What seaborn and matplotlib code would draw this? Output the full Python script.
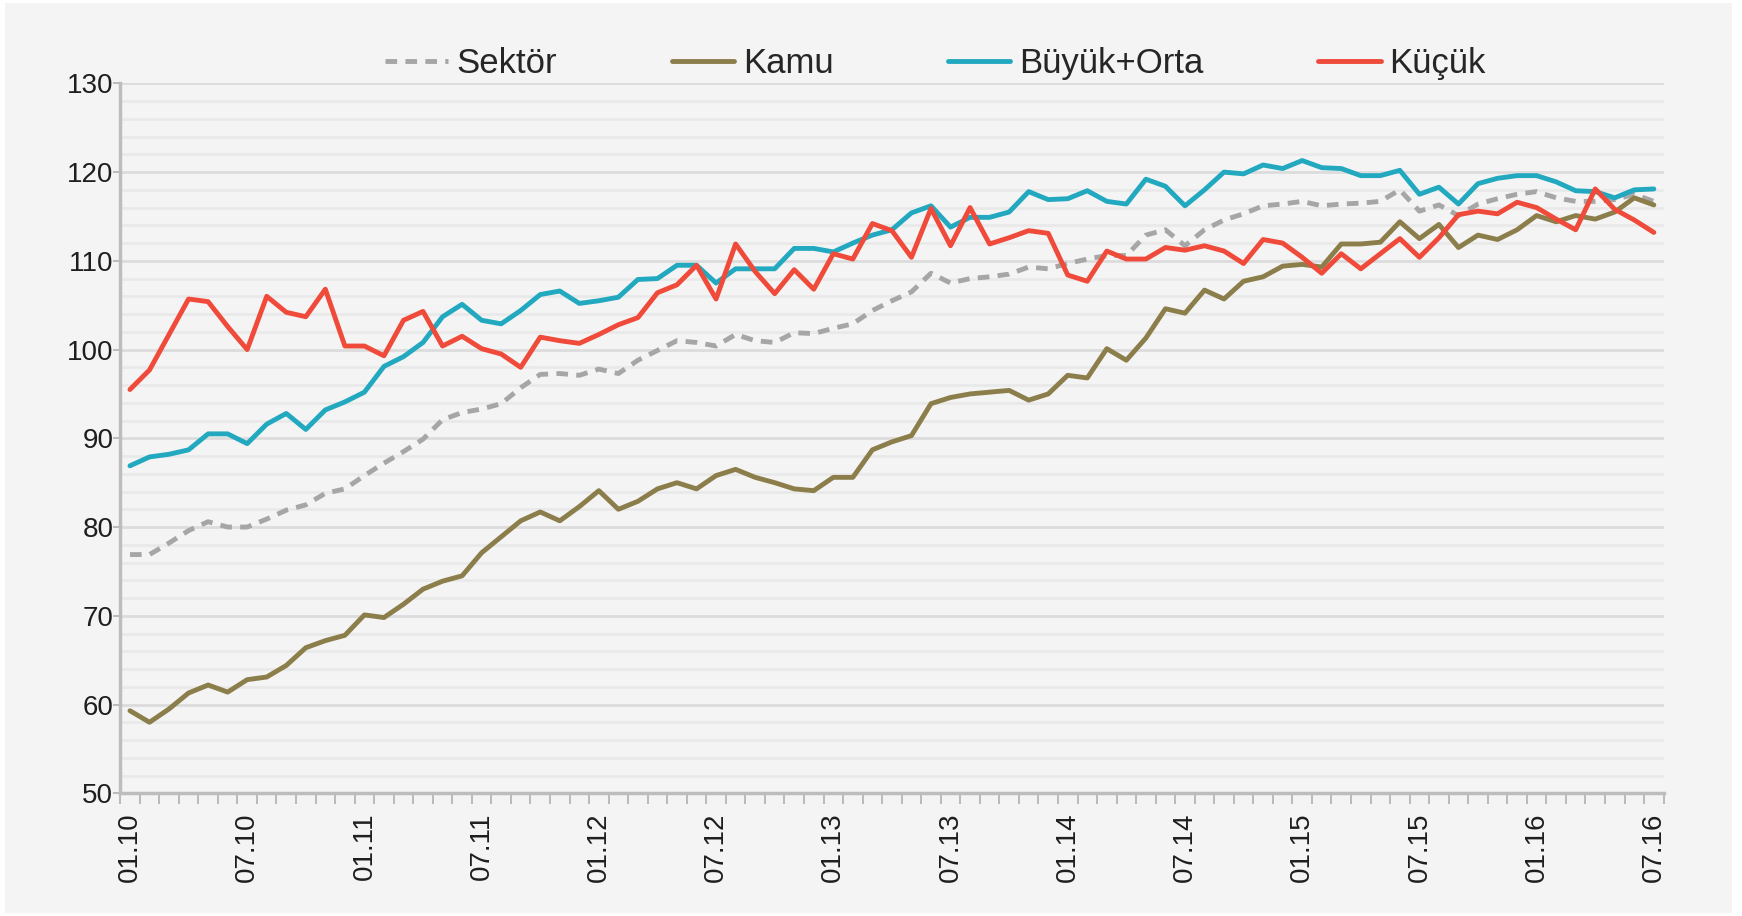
import numpy as np
import pandas as pd
import matplotlib
matplotlib.use("Agg")
import matplotlib.pyplot as plt
import seaborn as sns
from matplotlib.patches import Rectangle
from matplotlib.ticker import MultipleLocator, FixedLocator

# aylar: 01.10 - 07.16 (79 ay)
aylar = [f"{m:02d}.{y:02d}" for y in range(10, 17) for m in range(1, 13)][:79]

sektor = [76.9, 76.9, 78.2, 79.6, 80.6, 80.0, 80.0, 80.9, 81.9, 82.5, 83.8, 84.3,
          85.8, 87.2, 88.5, 89.9, 92.1, 92.9, 93.3, 93.9, 95.7, 97.2, 97.3, 97.1,
          97.8, 97.3, 98.8, 99.9, 101.0, 100.8, 100.4, 101.7, 101.0, 100.8, 101.9, 101.8,
          102.4, 102.9, 104.4, 105.5, 106.5, 108.6, 107.5, 108.0, 108.2, 108.5, 109.3, 109.1,
          109.7, 110.2, 110.6, 110.6, 112.9, 113.5, 111.7, 113.5, 114.6, 115.3, 116.2, 116.4,
          116.7, 116.2, 116.4, 116.5, 116.7, 118.0, 115.6, 116.3, 115.1, 116.4, 117.0, 117.5,
          117.8, 117.1, 116.7, 116.7, 116.9, 117.5, 116.7]

kamu = [59.3, 58.0, 59.5, 61.3, 62.2, 61.4, 62.8, 63.1, 64.4, 66.4, 67.2, 67.8,
        70.1, 69.8, 71.3, 73.0, 73.9, 74.5, 77.1, 78.9, 80.7, 81.7, 80.7, 82.3,
        84.1, 82.0, 82.9, 84.3, 85.0, 84.3, 85.8, 86.5, 85.6, 85.0, 84.3, 84.1,
        85.6, 85.6, 88.7, 89.6, 90.3, 93.9, 94.6, 95.0, 95.2, 95.4, 94.3, 95.0,
        97.1, 96.8, 100.1, 98.8, 101.3, 104.6, 104.1, 106.7, 105.7, 107.7, 108.2, 109.4,
        109.6, 109.3, 111.9, 111.9, 112.1, 114.4, 112.5, 114.1, 111.5, 112.9, 112.4, 113.5,
        115.1, 114.4, 115.1, 114.7, 115.5, 117.1, 116.3]

buyuk_orta = [86.9, 87.9, 88.2, 88.7, 90.5, 90.5, 89.4, 91.6, 92.8, 91.0, 93.2, 94.1,
              95.2, 98.1, 99.2, 100.8, 103.7, 105.1, 103.3, 102.9, 104.4, 106.2, 106.6, 105.2,
              105.5, 105.9, 107.9, 108.0, 109.5, 109.5, 107.5, 109.1, 109.1, 109.1, 111.4, 111.4,
              111.0, 112.0, 112.9, 113.5, 115.4, 116.2, 113.8, 114.9, 114.9, 115.5, 117.8, 116.9,
              117.0, 117.9, 116.7, 116.4, 119.2, 118.4, 116.2, 118.0, 120.0, 119.8, 120.8, 120.4,
              121.3, 120.5, 120.4, 119.6, 119.6, 120.2, 117.5, 118.3, 116.4, 118.7, 119.3, 119.6,
              119.6, 118.9, 117.9, 117.8, 117.1, 118.0, 118.1]

kucuk = [95.5, 97.7, 101.7, 105.7, 105.4, 102.6, 100.0, 106.0, 104.2, 103.7, 106.8, 100.4,
         100.4, 99.3, 103.3, 104.3, 100.4, 101.5, 100.1, 99.5, 98.0, 101.4, 101.0, 100.7,
         101.7, 102.8, 103.6, 106.4, 107.3, 109.5, 105.7, 111.9, 108.8, 106.3, 109.0, 106.8,
         110.8, 110.2, 114.2, 113.4, 110.4, 115.9, 111.7, 116.0, 111.9, 112.6, 113.4, 113.1,
         108.4, 107.7, 111.1, 110.2, 110.2, 111.5, 111.2, 111.7, 111.1, 109.7, 112.4, 112.0,
         110.4, 108.6, 110.8, 109.1, 110.8, 112.5, 110.4, 112.6, 115.2, 115.6, 115.3, 116.6,
         116.0, 114.7, 113.5, 118.1, 115.8, 114.6, 113.2]

seriler = ["Sektör", "Kamu", "Büyük+Orta", "Küçük"]
renkler = ["#a6a6a6", "#8b7e4b", "#22a9bf", "#ef4a3a"]
degerler = [sektor, kamu, buyuk_orta, kucuk]

x = np.arange(len(aylar))

sns.set_style("white")
plt.rcParams["font.family"] = ["Liberation Sans", "DejaVu Sans"]

fig = plt.figure(figsize=(17.42, 9.16), dpi=100, facecolor="white")
fig.patches.append(Rectangle((5 / 1742, 3 / 916), 1727 / 1742, 910 / 916,
                             transform=fig.transFigure, facecolor="#f4f4f4",
                             edgecolor="none", zorder=-10))
ax = fig.add_axes([0.069, 0.134, 0.886, 0.775])
ax.set_facecolor("#f4f4f4")

kesik = [2.4, 1.7]
for ad, renk, y in zip(seriler, renkler, degerler):
    df = pd.DataFrame({"x": x, "y": y})
    sns.lineplot(data=df, x="x", y="y", ax=ax, color=renk, lw=3.5,
                 label=ad, zorder=3)
    if ad == "Sektör":
        ax.lines[-1].set_dashes(kesik)

ax.set_xlim(-0.5, 78.5)
ax.set_ylim(50, 130)
ax.set_xlabel("")
ax.set_ylabel("")

# grid
ax.yaxis.set_major_locator(MultipleLocator(10))
ax.yaxis.set_minor_locator(MultipleLocator(2))
ax.grid(axis="y", which="major", color="#dcdcdc", lw=2, zorder=0)
ax.grid(axis="y", which="minor", color="#e9e9e9", lw=2, zorder=0)
ax.grid(axis="x", visible=False, which="both")

ax.set_xticks(x[::6])
ax.set_xticklabels(aylar[::6], rotation=90)
ax.xaxis.set_minor_locator(FixedLocator(np.arange(-0.5, 79, 1)))
ax.tick_params(axis="x", which="major", length=0, pad=14, labelsize=20, labelcolor="#1e1e1e")
ax.tick_params(axis="x", which="minor", length=8, width=1.2, color="#b0b0b0", bottom=True)
ax.tick_params(axis="y", which="major", length=5, width=1.2, color="#b0b0b0", left=True,
               labelsize=20, labelcolor="#1e1e1e", pad=0)
ax.tick_params(axis="y", which="minor", length=0)

for s in ["top", "right"]:
    ax.spines[s].set_visible(False)
ax.spines["left"].set_color("#bdbdbd")
ax.spines["left"].set_linewidth(2.5)
ax.spines["bottom"].set_color("#bdbdbd")
ax.spines["bottom"].set_linewidth(2.5)

leg = ax.legend(loc="center", bbox_to_anchor=(0.537, 0.931), bbox_transform=fig.transFigure,
                ncol=4, frameon=False, fontsize=25, handlelength=1.8, handletextpad=0.25,
                columnspacing=3.3)
leg.get_lines()[0].set_dashes(kesik)

fig.savefig("out.png", dpi=100, facecolor=fig.get_facecolor())
